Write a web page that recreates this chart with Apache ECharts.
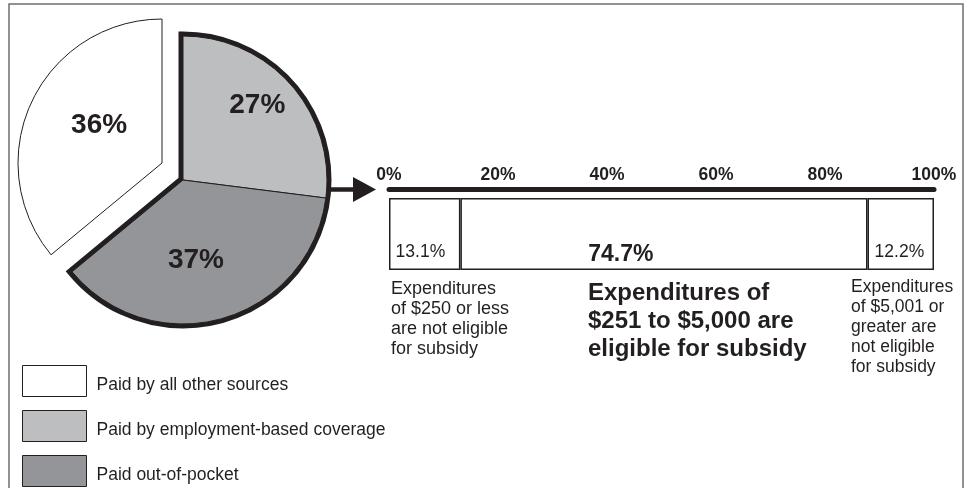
<!DOCTYPE html>
<html>
<head>
<meta charset="utf-8">
<script src="https://cdn.jsdelivr.net/npm/echarts@6/dist/echarts.min.js"></script>
<style>
  html, body { margin: 0; padding: 0; background: #ffffff; }
  #chart { width: 970px; height: 488px; }
</style>
</head>
<body>
<div id="chart"></div>
<script>
// ---- Data ----
const pieNames = ['Paid by all other sources', 'Paid by employment-based coverage', 'Paid out-of-pocket'];
const pieValues = [36, 27, 37];
const pieColors = ['#ffffff', '#bcbec0', '#939598'];

const barNames = ['Expenditures of $250 or less', 'Expenditures of $251 to $5,000', 'Expenditures of $5,001 or greater'];
const barValues = [13.1, 74.7, 12.2];

const axisTicks = [0, 20, 40, 60, 80, 100];

const noteLeft = ['Expenditures', 'of $250 or less', 'are not eligible', 'for subsidy'];
const noteMid = ['Expenditures of', '$251 to $5,000 are', 'eligible for subsidy'];
const noteRight = ['Expenditures', 'of $5,001 or', 'greater are', 'not eligible', 'for subsidy'];

// ---- Styles ----
const INK = '#231f20';
const FONT = '"Liberation Sans", Arial, Helvetica, sans-serif';
const pieCenter = [183, 180];
const explodedCenter = [162, 163];
const pieR = 144;
const clear = 'rgba(0,0,0,0)';

const chart = echarts.init(document.getElementById('chart'), null, { renderer: 'canvas' });

const insideShown = pieValues[1] + pieValues[2];

const pieLabel = {
  show: true,
  position: 'inside',
  formatter: '{c}%',
  color: INK,
  fontFamily: FONT,
  fontWeight: 'bold',
  fontSize: 28
};

const option = {
  animation: false,
  backgroundColor: '#ffffff',
  legend: {
    orient: 'vertical',
    left: 22,
    top: 365,
    padding: 0,
    itemWidth: 64,
    itemHeight: 31,
    itemGap: 13,
    icon: 'rect',
    selectedMode: false,
    data: pieNames,
    itemStyle: { borderColor: INK, borderWidth: 1 },
    formatter: function (name) { return '{t|' + name + '}'; },
    textStyle: {
      color: INK, fontFamily: FONT, fontSize: 17.5,
      rich: { t: { color: INK, fontFamily: FONT, fontSize: 17.5, padding: [8, 0, 0, 5] } }
    }
  },
  grid: {
    left: 389, right: 36, top: 198, height: 72,
    outerBoundsMode: 'none'
  },
  xAxis: {
    type: 'value',
    position: 'top',
    min: axisTicks[0],
    max: axisTicks[axisTicks.length - 1],
    interval: axisTicks[1] - axisTicks[0],
    offset: 9,
    axisLine: { show: true, lineStyle: { color: INK, width: 5 } },
    axisTick: { show: false },
    splitLine: { show: false },
    axisLabel: {
      formatter: '{value}%',
      color: INK,
      fontFamily: FONT,
      fontWeight: 'bold',
      fontSize: 17.5,
      margin: 5
    }
  },
  yAxis: {
    type: 'category',
    data: ['Share'],
    show: false
  },
  series: [
    // thick outline under the two attached slices
    {
      type: 'pie',
      silent: true,
      z: 1,
      center: pieCenter,
      radius: pieR,
      startAngle: 90,
      clockwise: true,
      label: { show: false },
      labelLine: { show: false },
      emphasis: { disabled: true },
      data: [
        { name: 'outline', value: insideShown, itemStyle: { color: INK, borderColor: INK, borderWidth: 9, borderJoin: 'miter' } },
        { name: 'gap', value: pieValues[0], itemStyle: { color: clear, borderWidth: 0 } }
      ]
    },
    // attached slices
    {
      type: 'pie',
      silent: true,
      z: 2,
      center: pieCenter,
      radius: pieR,
      startAngle: 90,
      clockwise: true,
      label: pieLabel,
      labelLine: { show: false },
      emphasis: { disabled: true },
      labelLayout: function (p) {
        const offs = [[18, -25], [-8, 8], [0, 0]];
        const o = offs[p.dataIndex] || [0, 0];
        return { dx: o[0], dy: o[1] };
      },
      data: [
        { name: pieNames[1], value: pieValues[1], itemStyle: { color: pieColors[1], borderColor: INK, borderWidth: 1 } },
        { name: pieNames[2], value: pieValues[2], itemStyle: { color: pieColors[2], borderColor: INK, borderWidth: 1 } },
        { name: 'gap2', value: pieValues[0], itemStyle: { color: clear, borderWidth: 0 }, label: { show: false } }
      ]
    },
    // exploded slice
    {
      type: 'pie',
      silent: true,
      z: 3,
      center: explodedCenter,
      radius: pieR,
      startAngle: 90,
      clockwise: true,
      label: pieLabel,
      labelLine: { show: false },
      emphasis: { disabled: true },
      labelLayout: function (p) {
        return p.dataIndex === 1 ? { dx: 5, dy: -6 } : {};
      },
      data: [
        { name: 'gap3', value: insideShown, itemStyle: { color: clear, borderWidth: 0 }, label: { show: false } },
        { name: pieNames[0], value: pieValues[0], itemStyle: { color: pieColors[0], borderColor: INK, borderWidth: 1 } }
      ]
    },
    // stacked bar
    {
      type: 'bar', name: barNames[0], stack: 'all', barWidth: '100%', silent: true,
      data: [barValues[0]],
      itemStyle: { color: '#ffffff', borderColor: INK, borderWidth: 1.5 },
      label: { show: true, formatter: '{c}%', position: ['44%', '75%'], align: 'center', verticalAlign: 'middle',
               color: INK, fontFamily: FONT, fontSize: 17.5 }
    },
    {
      type: 'bar', name: barNames[1], stack: 'all', barWidth: '100%', silent: true,
      data: [barValues[1]],
      itemStyle: { color: '#ffffff', borderColor: INK, borderWidth: 1.5 },
      label: { show: true, formatter: '{c}%', position: ['39.4%', '78%'], align: 'center', verticalAlign: 'middle',
               color: INK, fontFamily: FONT, fontWeight: 'bold', fontSize: 23 }
    },
    {
      type: 'bar', name: barNames[2], stack: 'all', barWidth: '100%', silent: true,
      data: [barValues[2]],
      itemStyle: { color: '#ffffff', borderColor: INK, borderWidth: 1.5 },
      label: { show: true, formatter: '{c}%', position: ['48%', '75%'], align: 'center', verticalAlign: 'middle',
               color: INK, fontFamily: FONT, fontSize: 17.5 }
    }
  ],
  graphic: [
    // frame
    { type: 'rect', z: 0, silent: true, shape: { x: 9, y: 4, width: 954, height: 500 },
      style: { fill: 'none', stroke: '#6d6e71', lineWidth: 1.5 } },
    // arrow shaft
    { type: 'line', silent: true, shape: { x1: 326, y1: 189.5, x2: 356, y2: 189.5 },
      style: { stroke: INK, lineWidth: 4.5 } },
    // arrow head
    { type: 'polygon', silent: true, shape: { points: [[353, 177], [376, 189.5], [353, 202]] },
      style: { fill: INK } },
    // notes
    { type: 'text', silent: true, x: 391, y: 279,
      style: { text: noteLeft.join('\n'), fill: INK, fontFamily: FONT, fontSize: 18, lineHeight: 20, verticalAlign: 'top' } },
    { type: 'text', silent: true, x: 588, y: 279,
      style: { text: noteMid.join('\n'), fill: INK, fontFamily: FONT, fontWeight: 'bold', fontSize: 24, lineHeight: 28, verticalAlign: 'top' } },
    { type: 'text', silent: true, x: 851, y: 277,
      style: { text: noteRight.join('\n'), fill: INK, fontFamily: FONT, fontSize: 17.5, lineHeight: 20, verticalAlign: 'top' } }
  ]
};

chart.setOption(option);
</script>
</body>
</html>
